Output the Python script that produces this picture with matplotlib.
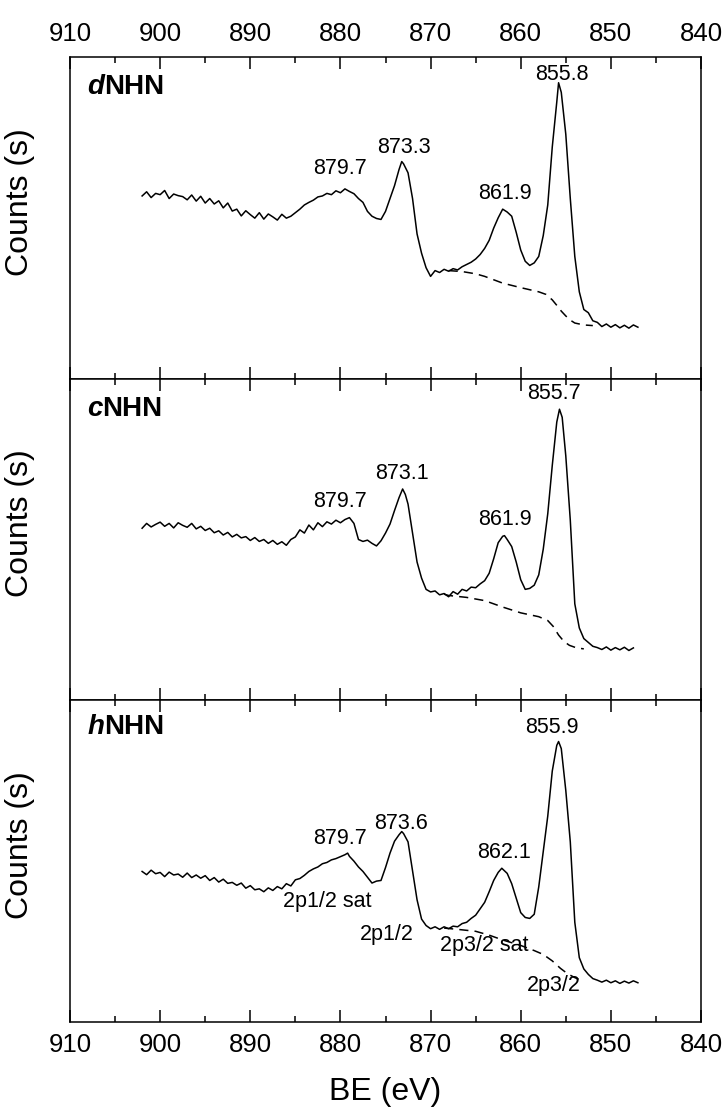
import matplotlib
matplotlib.use("Agg")
import matplotlib.pyplot as plt
from matplotlib.ticker import MultipleLocator

plt.rcParams['font.family'] = ['Liberation Sans', 'DejaVu Sans']

# ---- data (BE in eV, counts in arbitrary units) ----
be_d = [902.0, 901.5, 901.0, 900.5, 900.0, 899.5, 899.0, 898.5, 898.0, 897.5, 897.0, 896.5,
        896.0, 895.5, 895.0, 894.5, 894.0, 893.5, 893.0, 892.5, 892.0, 891.5, 891.0, 890.5,
        890.0, 889.5, 889.0, 888.5, 888.0, 887.5, 887.0, 886.5, 886.0, 885.5, 885.0, 884.5,
        884.0, 883.5, 883.0, 882.5, 882.0, 881.5, 881.0, 880.5, 880.0, 879.5, 879.0, 878.5,
        878.0, 877.5, 877.0, 876.5, 876.0, 875.5, 875.0, 874.5, 874.0, 873.5, 873.2, 873.0,
        872.5, 872.0, 871.5, 871.0, 870.5, 870.0, 869.5, 869.0, 868.5, 868.0, 867.5, 867.0,
        866.5, 866.0, 865.5, 865.0, 864.5, 864.0, 863.5, 863.0, 862.5, 862.0, 861.5, 861.0,
        860.5, 860.0, 859.5, 859.0, 858.5, 858.0, 857.5, 857.0, 856.5, 856.0, 855.8, 855.5,
        855.0, 854.5, 854.0, 853.5, 853.0, 852.5, 852.0, 851.5, 851.0, 850.5, 850.0, 849.5,
        849.0, 848.5, 848.0, 847.5, 847.0]
cnt_d = [568, 581, 563, 576, 572, 585, 560, 574, 569, 566, 556, 571,
         552, 567, 546, 560, 543, 553, 531, 546, 521, 527, 506, 522,
         510, 499, 516, 496, 512, 503, 493, 511, 499, 505, 516, 527,
         540, 548, 555, 565, 568, 576, 572, 584, 578, 590, 582, 575,
         560, 548, 520, 505, 498, 495, 520, 560, 600, 650, 675, 668,
         640, 560, 450, 390, 345, 318, 336, 330, 340, 334, 342, 338,
         348, 355, 362, 372, 386, 405, 430, 468, 500, 527, 518, 505,
         455, 400, 365, 352, 360, 380, 445, 540, 720, 860, 920, 890,
         760, 560, 380, 270, 215, 205, 180, 175, 162, 170, 160, 168,
         158, 166, 157, 167, 160]
bg_be_d = [868.0, 866.5, 865.0, 864.0, 862.0, 860.0, 858.0, 857.2, 856.5, 856.0, 855.5,
           855.0, 854.5, 854.0, 853.0, 852.0]
bg_d = [336, 333, 326, 318, 297, 283, 270, 262, 245, 228, 210, 195, 182, 173, 167, 165]

be_c = [902.0, 901.5, 901.0, 900.5, 900.0, 899.5, 899.0, 898.5, 898.0, 897.5, 897.0, 896.5,
        896.0, 895.5, 895.0, 894.5, 894.0, 893.5, 893.0, 892.5, 892.0, 891.5, 891.0, 890.5,
        890.0, 889.5, 889.0, 888.5, 888.0, 887.5, 887.0, 886.5, 886.0, 885.5, 885.0, 884.5,
        884.0, 883.5, 883.0, 882.5, 882.0, 881.5, 881.0, 880.5, 880.0, 879.5, 879.0, 878.5,
        878.2, 878.0, 877.5, 877.0, 876.5, 876.0, 875.5, 875.0, 874.5, 874.0, 873.5, 873.1,
        872.8, 872.5, 872.0, 871.5, 871.0, 870.5, 870.0, 869.5, 869.0, 868.5, 868.0, 867.5,
        867.0, 866.5, 866.0, 865.5, 865.0, 864.5, 864.0, 863.5, 863.0, 862.5, 862.0, 861.8,
        861.5, 861.0, 860.5, 860.0, 859.5, 859.0, 858.5, 858.0, 857.5, 857.0, 856.5, 856.0,
        855.7, 855.4, 855.0, 854.5, 854.0, 853.5, 853.0, 852.5, 852.0, 851.5, 851.0, 850.5,
        850.0, 849.5, 849.0, 848.5, 848.0, 847.5]
cnt_c = [535, 550, 539, 547, 554, 541, 550, 536, 552, 544, 538, 550,
         533, 541, 528, 535, 521, 527, 514, 522, 508, 516, 505, 509,
         497, 506, 494, 500, 488, 497, 485, 493, 482, 500, 508, 530,
         520, 545, 530, 552, 540, 555, 548, 560, 552, 562, 568, 550,
         520, 500, 494, 498, 488, 480, 496, 520, 548, 590, 630, 657,
         640, 610, 520, 430, 380, 345, 337, 340, 328, 332, 322, 338,
         330, 345, 340, 352, 350, 362, 372, 395, 440, 490, 510, 512,
         500, 478, 430, 375, 345, 348, 358, 390, 470, 580, 730, 865,
         905, 880, 760, 560, 300, 225, 192, 180, 168, 164, 158, 166,
         156, 164, 157, 165, 155, 163]
bg_be_c = [868.5, 868.0, 866.0, 864.0, 862.0, 860.0, 858.0, 857.0, 856.4, 855.8, 855.2,
           854.6, 853.8, 853.0]
bg_c = [330, 326, 320, 310, 290, 272, 260, 248, 230, 203, 183, 171, 163, 160]

be_h = [902.0, 901.5, 901.0, 900.5, 900.0, 899.5, 899.0, 898.5, 898.0, 897.5, 897.0, 896.5,
        896.0, 895.5, 895.0, 894.5, 894.0, 893.5, 893.0, 892.5, 892.0, 891.5, 891.0, 890.5,
        890.0, 889.5, 889.0, 888.5, 888.0, 887.5, 887.0, 886.5, 886.0, 885.5, 885.0, 884.5,
        884.0, 883.5, 883.0, 882.5, 882.0, 881.5, 881.0, 880.5, 880.0, 879.5, 879.2, 879.0,
        878.5, 878.0, 877.5, 877.0, 876.5, 876.0, 875.5, 875.0, 874.5, 874.0, 873.5, 873.2,
        873.0, 872.5, 872.0, 871.5, 871.0, 870.5, 870.0, 869.5, 869.0, 868.5, 868.0, 867.5,
        867.0, 866.5, 866.0, 865.5, 865.0, 864.5, 864.0, 863.5, 863.0, 862.5, 862.1, 861.5,
        861.0, 860.5, 860.0, 859.5, 859.0, 858.5, 858.0, 857.5, 857.0, 856.5, 856.0, 855.8,
        855.5, 855.0, 854.5, 854.0, 853.5, 853.0, 852.5, 852.0, 851.5, 851.0, 850.5, 850.0,
        849.5, 849.0, 848.5, 848.0, 847.5, 847.0]
cnt_h = [468, 458, 472, 461, 465, 452, 466, 457, 460, 450, 463, 449,
         457, 447, 455, 440, 449, 435, 444, 431, 434, 425, 432, 416,
         424, 411, 414, 405, 417, 409, 421, 414, 430, 423, 442, 446,
         456, 468, 476, 482, 492, 496, 504, 508, 514, 520, 525, 515,
         500, 482, 468, 450, 432, 438, 440, 480, 525, 562, 582, 592,
         586, 560, 470, 380, 320, 300, 290, 296, 288, 296, 290, 298,
         296, 306, 310, 322, 332, 352, 372, 405, 440, 465, 478, 462,
         430, 385, 340, 325, 322, 335, 420, 530, 640, 780, 860, 872,
         850, 720, 560, 310, 200, 165, 148, 135, 130, 124, 130, 122,
         128, 120, 127, 121, 128, 122]
bg_be_h = [868.5, 867.0, 865.0, 863.5, 862.0, 860.0, 858.5, 857.5, 856.5, 855.6, 854.8,
           854.0, 853.0]
bg_h = [292, 288, 282, 270, 255, 238, 222, 210, 190, 167, 150, 138, 126]

sample_names = ['d', 'c', 'h']
peak_labels_d = [('855.8', 855.4), ('879.7', 880.05), ('873.3', 872.95), ('861.9', 861.8)]
peak_labels_c = [('855.7', 856.3), ('879.7', 880.1), ('873.1', 873.2), ('861.9', 861.8)]
peak_labels_h = [('855.9', 856.5), ('879.7', 880.0), ('873.6', 873.3), ('862.1', 861.9),
                 ('2p1/2 sat', 881.5), ('2p1/2', 874.9), ('2p3/2 sat', 864.0), ('2p3/2', 856.3)]

# layout: vertical position (axes fraction) of each annotation, same order as above
label_y = [[0.947, 0.654, 0.720, 0.576],
           [0.953, 0.618, 0.705, 0.562],
           [0.916, 0.571, 0.618, 0.528, 0.376, 0.273, 0.239, 0.115]]
name_y = [0.907, 0.907, 0.916]

W, H = 728, 1113
fig = plt.figure(figsize=(W / 100, H / 100), dpi=100)
left, right = 70 / W, 701 / W
bottom, top = 1 - 1022 / H, 1 - 57 / H
gs = fig.add_gridspec(3, 1, left=left, right=right, bottom=bottom, top=top, hspace=0)
axes = [fig.add_subplot(gs[i]) for i in range(3)]

spectra = [(be_d, cnt_d, bg_be_d, bg_d, peak_labels_d),
           (be_c, cnt_c, bg_be_c, bg_c, peak_labels_c),
           (be_h, cnt_h, bg_be_h, bg_h, peak_labels_h)]

for i, ax in enumerate(axes):
    be, cnt, bg_be, bg, labels = spectra[i]
    ax.plot(be, cnt, color='black', lw=1.1)
    ax.plot(bg_be, bg, color='black', lw=1.1, linestyle=(0, (6, 4)))
    ax.set_xlim(910, 840)
    ax.set_ylim(0, 1000)
    ax.xaxis.set_major_locator(MultipleLocator(10))
    ax.xaxis.set_minor_locator(MultipleLocator(5))
    ax.set_yticks([])
    ax.tick_params(axis='x', which='both', direction='in', top=True, bottom=True,
                   width=1.1, labelsize=18.5, pad=8,
                   labelbottom=(i == 2), labeltop=(i == 0))
    ax.tick_params(axis='x', which='major', length=8.5)
    ax.tick_params(axis='x', which='minor', length=4.3)
    for sp in ax.spines.values():
        sp.set_linewidth(1.1)
    ax.set_ylabel('Counts (s)', fontsize=23)
    ax.yaxis.set_label_coords(-0.055, 0.55)

    for (txt, x), y in zip(labels, label_y[i]):
        ax.text(x, y, txt, transform=ax.get_xaxis_transform(), ha='center', va='center',
                fontsize=15.5)

    t = ax.text(0.027, name_y[i], sample_names[i], transform=ax.transAxes, ha='left',
                va='center', fontsize=20, fontweight='bold', style='italic')
    ax.annotate('NHN', xy=(1, 0), xycoords=t, ha='left', va='bottom', fontsize=20,
                fontweight='bold')

axes[2].set_xlabel('BE (eV)', fontsize=23, labelpad=14)

fig.savefig('out.png', dpi=100)
